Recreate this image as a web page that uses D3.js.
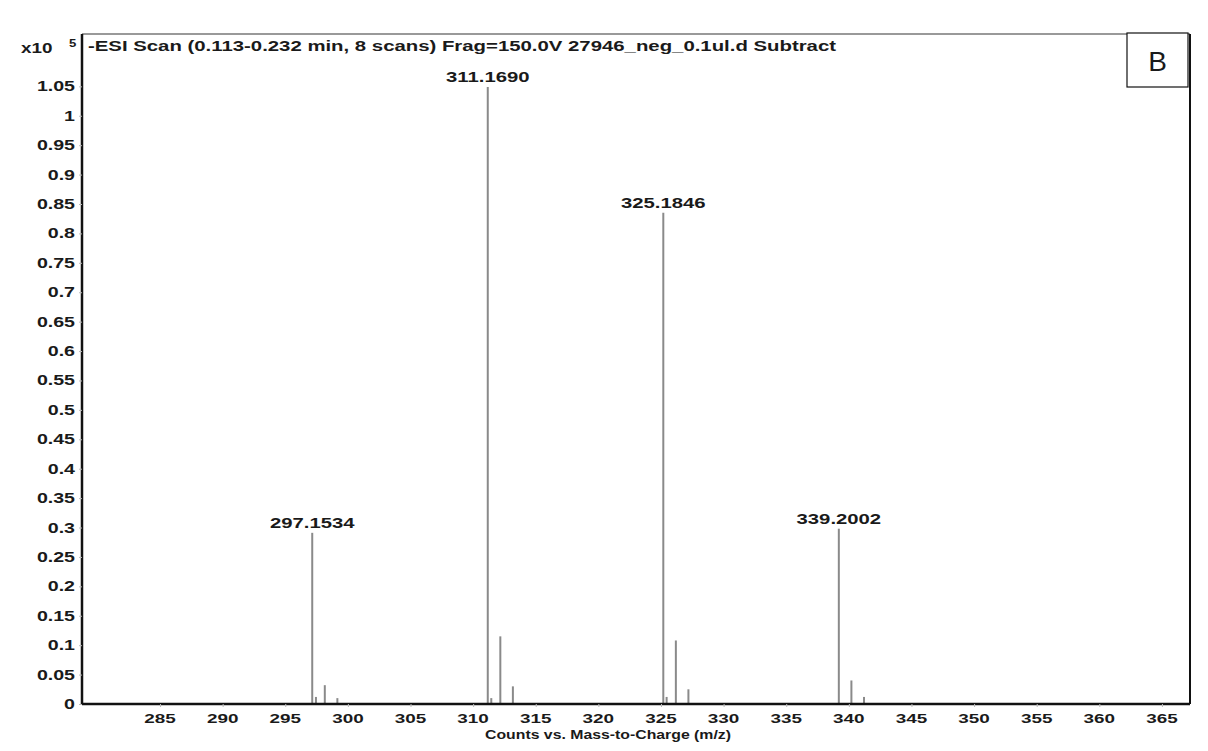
<!DOCTYPE html>
<html><head><meta charset="utf-8">
<script src="https://cdn.jsdelivr.net/npm/d3@7"></script>
<style>
html,body{margin:0;padding:0;background:#fff;}
text{font-family:"Liberation Sans",Arial,sans-serif;fill:#1a1a1a;}
</style></head>
<body>
<svg id="chart" width="1208" height="751"></svg>
<script>
// m/z values of the centroid sticks
const mzValues = [297.1534, 297.45, 298.157, 299.16, 311.1690, 311.45, 312.172, 313.175, 325.1846, 325.45, 326.188, 327.19, 339.2002, 340.204, 341.21];
// intensities (x10^5 counts)
const intensities = [0.291, 0.012, 0.032, 0.010, 1.049, 0.010, 0.115, 0.030, 0.835, 0.012, 0.108, 0.025, 0.298, 0.040, 0.012];
// labelled peaks
const labelMz = [297.1534, 311.1690, 325.1846, 339.2002];
const labelText = ["297.1534", "311.1690", "325.1846", "339.2002"];
const labelInt = [0.291, 1.049, 0.835, 0.298];
// axis ticks
const xTicks = [285, 290, 295, 300, 305, 310, 315, 320, 325, 330, 335, 340, 345, 350, 355, 360, 365];
const yTicks = [0, 0.05, 0.1, 0.15, 0.2, 0.25, 0.3, 0.35, 0.4, 0.45, 0.5, 0.55, 0.6, 0.65, 0.7, 0.75, 0.8, 0.85, 0.9, 0.95, 1, 1.05];
const titleText = "-ESI Scan (0.113-0.232 min, 8 scans) Frag=150.0V 27946_neg_0.1ul.d  Subtract";
const xTitle = "Counts vs. Mass-to-Charge (m/z)";

const svg = d3.select("#chart");
const L = 82, R = 1190, T = 34, B = 704;
const x = d3.scaleLinear().domain([278.77, 367.24]).range([L, R]);
const y = d3.scaleLinear().domain([0, 1.139]).range([B, T]);
const SX = 1.4;

function stext(g, tx, ty, str, size, anchor, sx) {
  return g.append("text")
    .attr("transform", `translate(${tx},${ty}) scale(${sx},1)`)
    .attr("text-anchor", anchor)
    .attr("font-size", size)
    .attr("font-weight", "bold")
    .text(str);
}

// frame: top & right
svg.append("line").attr("x1", L).attr("x2", R).attr("y1", T).attr("y2", T)
  .attr("stroke", "#777").attr("stroke-width", 1.5);
svg.append("line").attr("x1", R).attr("x2", R).attr("y1", T).attr("y2", B)
  .attr("stroke", "#111").attr("stroke-width", 2);

// sticks
svg.append("g").selectAll("line").data(mzValues).join("line")
  .attr("x1", d => x(d)).attr("x2", d => x(d))
  .attr("y1", B).attr("y2", (d, i) => y(intensities[i]))
  .attr("stroke", "#8a8a8a").attr("stroke-width", 2);

// axes
const xAxis = svg.append("g").attr("transform", `translate(0,${B})`)
  .call(d3.axisBottom(x).tickValues(xTicks).tickSize(3).tickFormat(""));
xAxis.select(".domain").attr("stroke", "#111").attr("stroke-width", 2.5).attr("d", `M${L},0H${R}`);
xAxis.selectAll(".tick line").attr("stroke", "#bbb");
const yAxis = svg.append("g").attr("transform", `translate(${L},0)`)
  .call(d3.axisLeft(y).tickValues(yTicks).tickSize(3).tickFormat(""));
yAxis.select(".domain").attr("stroke", "#111").attr("stroke-width", 2.5).attr("d", `M0,${T}V${B}`);
yAxis.selectAll(".tick line").attr("stroke", "#bbb");

// tick labels
const lbl = svg.append("g");
xTicks.forEach(v => stext(lbl, x(v), B + 19, String(v), 13.5, "middle", SX));
yTicks.forEach(v => stext(lbl, 75, y(v) + 5, d3.format("")(v), 14, "end", SX));

// peak labels
labelMz.forEach((m, i) => stext(lbl, x(m), y(labelInt[i]) - 5, labelText[i], 14.5, "middle", SX));

// multiplier
stext(lbl, 21, 53, "x10", 14.5, "start", 1.3);
stext(lbl, 69, 47, "5", 10.5, "start", 1.25);

// title
svg.append("text").attr("x", 88).attr("y", 51).attr("font-size", 14.5).attr("font-weight", "bold")
  .attr("textLength", 748).attr("lengthAdjust", "spacingAndGlyphs").text(titleText);

// x title
svg.append("text").attr("x", 485).attr("y", 739).attr("font-size", 13.5).attr("font-weight", "bold")
  .attr("textLength", 246).attr("lengthAdjust", "spacingAndGlyphs").text(xTitle);

// B box
svg.append("rect").attr("x", 1127).attr("y", 33).attr("width", 61).attr("height", 54)
  .attr("fill", "#fff").attr("stroke", "#111").attr("stroke-width", 1.2);
svg.append("text").attr("x", 1157.5).attr("y", 71).attr("text-anchor", "middle")
  .attr("font-size", 28).attr("font-family", "Arial, 'Liberation Sans', sans-serif").text("B");
</script>
</body></html>
